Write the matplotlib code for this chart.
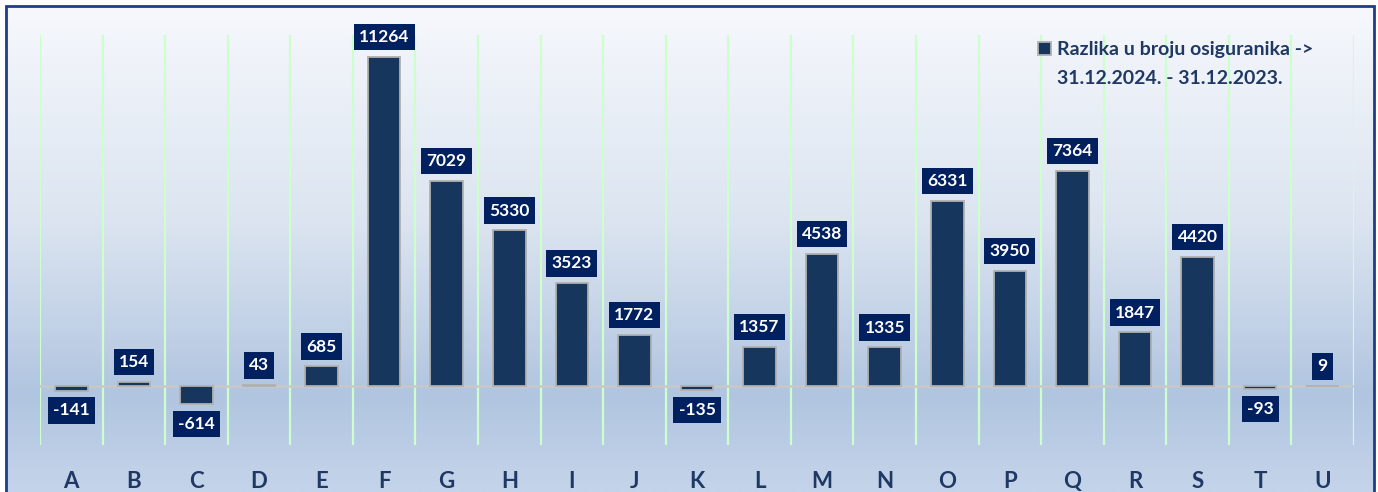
import matplotlib
matplotlib.use("Agg")
import matplotlib.pyplot as plt
import numpy as np
from matplotlib.colors import LinearSegmentedColormap
from matplotlib.patches import Rectangle

categories = ["A", "B", "C", "D", "E", "F", "G", "H", "I", "J", "K",
              "L", "M", "N", "O", "P", "Q", "R", "S", "T", "U"]
values = [-141, 154, -614, 43, 685, 11264, 7029, 5330, 3523, 1772, -135,
          1357, 4538, 1335, 6331, 3950, 7364, 1847, 4420, -93, 9]
legend_line1 = "Razlika u broju osiguranika ->"
legend_line2 = "31.12.2024. - 31.12.2023."

plt.rcParams['font.family'] = ['Lato', 'DejaVu Sans']

W, H = 1378, 492
fig = plt.figure(figsize=(W / 100, H / 100), dpi=100)
fig.patch.set_facecolor('white')

# background gradient panel
bx0, by_top = 6, 6
bg = fig.add_axes([bx0 / W, 0, (1374 - bx0) / W, (H - by_top) / H])
cmap = LinearSegmentedColormap.from_list(
    "bg", [(0.0, "#f6f8fc"), (0.45, "#dbe4f0"), (0.8, "#b1c5e0"), (1.0, "#c4d4ea")])
grad = np.linspace(0, 1, 256).reshape(-1, 1)
bg.imshow(grad, aspect='auto', cmap=cmap, extent=[0, 1, 0, 1], origin='upper')
bg.set_axis_off()
fig.patches.append(Rectangle((bx0 / W, -0.01), (1374 - bx0) / W, (H - by_top) / H + 0.01,
                             transform=fig.transFigure, fill=False,
                             edgecolor='#1f3c88', linewidth=2, zorder=5))

ax = fig.add_axes([40 / W, (H - 445) / H, 1314 / W, 410 / H])
ax.patch.set_alpha(0)
x = np.arange(len(categories))
ax.set_xlim(-0.5, len(categories) - 0.5)
ax.set_ylim(-2000, 12000)

for i in range(len(categories) + 1):
    ax.axvline(i - 0.5, color='#ccffcc', linewidth=1.6, zorder=1)
ax.axhline(0, color='#c8c8c8', linewidth=1.8, zorder=2)

bars = ax.bar(x, values, width=0.52, color='#17365d', edgecolor='#b0b0b0',
              linewidth=1.3, zorder=3, label=legend_line1)

for xi, v in zip(x, values):
    if v >= 0:
        ax.annotate(f"{v}", (xi, v), xytext=(0, 8.5), textcoords='offset points',
                    ha='center', va='bottom', fontsize=12.5, fontweight='bold',
                    color='white', zorder=6,
                    bbox=dict(boxstyle='square,pad=0.3', fc='#002060', ec='none'))
    else:
        ax.annotate(f"{v}", (xi, v), xytext=(0, -8.5), textcoords='offset points',
                    ha='center', va='top', fontsize=12.5, fontweight='bold',
                    color='white', zorder=6,
                    bbox=dict(boxstyle='square,pad=0.3', fc='#002060', ec='none'))

ax.set_xticks(x)
ax.set_xticklabels(categories, fontsize=16, fontweight='bold', color='#1f3864')
ax.tick_params(axis='x', length=0, pad=19)
ax.set_yticks([])
for s in ax.spines.values():
    s.set_visible(False)

leg = ax.legend(loc='center left', frameon=False,
                prop={'size': 14, 'weight': 'bold'}, handlelength=0.65, handleheight=0.65,
                handletextpad=0.35, labelcolor='#1f3864', borderpad=0, borderaxespad=0)
leg.set_bbox_to_anchor((1038 / W, (H - 50) / H), transform=fig.transFigure)
fig.text(1057 / W, (H - 78) / H, legend_line2, fontsize=14, fontweight='bold',
         color='#1f3864', ha='left', va='center')

fig.savefig("out.png", dpi=100)
